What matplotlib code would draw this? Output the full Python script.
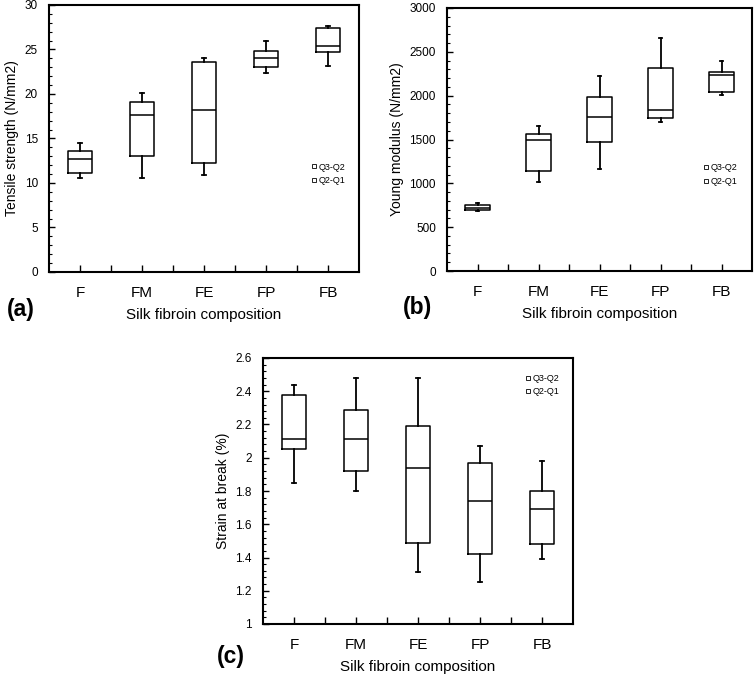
import matplotlib
matplotlib.use("Agg")
import matplotlib.pyplot as plt
from matplotlib.lines import Line2D
from matplotlib.ticker import MultipleLocator

plt.rcParams['font.family'] = ['Liberation Sans', 'DejaVu Sans']

categories = ["F", "FM", "FE", "FP", "FB"]

# Tensile strength (N/mm2): min, Q1, median, Q3, max
ts_min = [10.6, 10.6, 10.9, 22.4, 23.1]
ts_q1 = [11.1, 13.0, 12.3, 23.0, 24.7]
ts_med = [12.7, 17.6, 18.2, 24.0, 25.4]
ts_q3 = [13.6, 19.1, 23.6, 24.8, 27.4]
ts_max = [14.5, 20.1, 24.1, 25.9, 27.6]

# Young modulus (N/mm2)
ym_min = [690, 1020, 1160, 1700, 2010]
ym_q1 = [700, 1140, 1470, 1740, 2040]
ym_med = [720, 1490, 1760, 1840, 2240]
ym_q3 = [750, 1560, 1990, 2320, 2270]
ym_max = [780, 1650, 2230, 2660, 2400]

# Strain at break (%)
sb_min = [1.85, 1.80, 1.31, 1.25, 1.39]
sb_q1 = [2.05, 1.92, 1.49, 1.42, 1.48]
sb_med = [2.11, 2.11, 1.94, 1.74, 1.69]
sb_q3 = [2.38, 2.29, 2.19, 1.97, 1.80]
sb_max = [2.44, 2.48, 2.48, 2.07, 1.98]

legend_labels = ["Q3-Q2", "Q2-Q1"]

W, H = 756, 674
fig = plt.figure(figsize=(W / 100, H / 100), dpi=100)


def px_axes(left, right, top, bottom):
    return fig.add_axes([left / W, 1 - bottom / H, (right - left) / W, (bottom - top) / H])


def draw_panel(ax, mins, q1s, meds, q3s, maxs, ylim, major, minor, ylabel, tag,
               tag_pos, legend_anchor, tick_fmt=None):
    stats = []
    for i, c in enumerate(categories):
        stats.append(dict(label=c, whislo=mins[i], q1=q1s[i], med=meds[i],
                          q3=q3s[i], whishi=maxs[i], fliers=[]))
    ax.bxp(stats, positions=range(1, len(categories) + 1), widths=0.4,
           showfliers=False, patch_artist=False,
           boxprops=dict(color='black', linewidth=1.1),
           medianprops=dict(color='black', linewidth=1.1),
           whiskerprops=dict(color='black', linewidth=1.3),
           capprops=dict(color='black', linewidth=1.3),
           capwidths=0.06)
    ax.set_xlim(0.5, len(categories) + 0.5)
    ax.set_ylim(*ylim)
    ax.set_xticks([1 + 0.5 * k for k in range(2 * len(categories) - 1)])
    ax.set_xticklabels([categories[k // 2] if k % 2 == 0 else "" for k in range(2 * len(categories) - 1)],
                       fontsize=11)
    ax.yaxis.set_major_locator(MultipleLocator(major))
    ax.yaxis.set_minor_locator(MultipleLocator(minor))
    if tick_fmt:
        ax.yaxis.set_major_formatter(tick_fmt)
    ax.tick_params(axis='x', direction='in', length=5, width=1, pad=10)
    ax.tick_params(axis='y', which='major', direction='in', length=4, width=1, labelsize=8.5, pad=8)
    ax.tick_params(axis='y', which='minor', direction='in', length=2.5, width=0.8)
    for s in ax.spines.values():
        s.set_linewidth(1.5)
    ax.set_ylabel(ylabel, fontsize=10, labelpad=4)
    ax.set_xlabel("Silk fibroin composition", fontsize=11, labelpad=6)
    ax.text(tag_pos[0], tag_pos[1], tag, transform=ax.transAxes, fontsize=16.5, fontweight='bold',
            ha='left', va='center')
    handles = [Line2D([], [], linestyle='none', marker='s', markersize=3.5,
                      markerfacecolor='white', markeredgecolor='black', markeredgewidth=0.6)
               for _ in legend_labels]
    ax.legend(handles, legend_labels, loc='upper left', bbox_to_anchor=legend_anchor,
              frameon=False, fontsize=6.5, handlelength=0.6, handletextpad=0.2,
              labelspacing=0.5, borderpad=0, borderaxespad=0)


ax_a = px_axes(49, 359, 5, 272)
draw_panel(ax_a, ts_min, ts_q1, ts_med, ts_q3, ts_max, (0, 30), 5, 1,
           "Tensile strength (N/mm2)", "(a)", (-0.135, -0.139), (0.845, 0.41))

ax_b = px_axes(447, 752, 8, 271)
draw_panel(ax_b, ym_min, ym_q1, ym_med, ym_q3, ym_max, (0, 3000), 500, 100,
           "Young modulus (N/mm2)", "(b)", (-0.144, -0.139), (0.84, 0.41))

ax_c = px_axes(263, 573, 358, 624)
draw_panel(ax_c, sb_min, sb_q1, sb_med, sb_q3, sb_max, (1, 2.6), 0.2, 0.04,
           "Strain at break (%)", "(c)", (-0.148, -0.124), (0.845, 0.94),
           tick_fmt=lambda v, p: f"{v:g}")

fig.savefig("out.png", dpi=100)
